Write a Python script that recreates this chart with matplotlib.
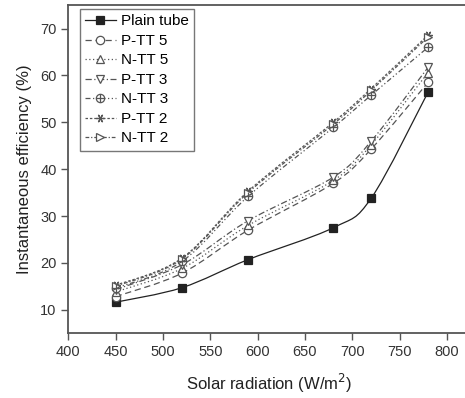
import matplotlib
matplotlib.use("Agg")
import matplotlib.pyplot as plt
from matplotlib.path import Path
from matplotlib.patches import PathPatch
from matplotlib.lines import Line2D

# data
radiation = [450, 520, 590, 680, 720, 780]
plain_tube = [11.6, 14.7, 20.7, 27.5, 33.8, 56.4]
ptt5 = [12.8, 17.8, 27.0, 37.0, 44.3, 58.5]
ntt5 = [13.8, 18.8, 28.0, 37.6, 45.2, 60.6]
ptt3 = [14.3, 19.6, 29.0, 38.3, 46.0, 61.7]
ntt3 = [14.6, 20.3, 34.2, 48.9, 55.8, 66.0]
ptt2 = [15.2, 21.0, 35.3, 50.0, 57.2, 68.6]
ntt2 = [15.0, 20.8, 35.0, 49.6, 56.8, 68.2]

labels = ["Plain tube", "P-TT 5", "N-TT 5", "P-TT 3", "N-TT 3", "P-TT 2", "N-TT 2"]
series = [plain_tube, ptt5, ntt5, ptt3, ntt3, ptt2, ntt2]


def smooth_path(x, y):
    """Catmull-Rom through the points, as cubic bezier segments."""
    n = len(x)
    verts = [(x[0], y[0])]
    codes = [Path.MOVETO]
    for i in range(n - 1):
        i0 = max(i - 1, 0)
        i3 = min(i + 2, n - 1)
        c1 = (x[i] + (x[i + 1] - x[i0]) / 6.0, y[i] + (y[i + 1] - y[i0]) / 6.0)
        c2 = (x[i + 1] - (x[i3] - x[i]) / 6.0, y[i + 1] - (y[i3] - y[i]) / 6.0)
        verts += [c1, c2, (x[i + 1], y[i + 1])]
        codes += [Path.CURVE4] * 3
    return Path(verts, codes)


plt.rcParams["font.family"] = ["Liberation Sans", "DejaVu Sans"]

fig = plt.figure(figsize=(4.65, 3.98), dpi=100)
ax = fig.add_axes([0.147, 0.163, 0.865, 0.824])

dark = "#222222"
grey = "#555555"
ms = 6
styles = [
    dict(ls="-", marker="s", mfc=dark, mec=dark, color=dark),
    dict(ls=(0, (5, 3)), marker="o", mfc="white", mec=grey, color=grey),
    dict(ls=(0, (1, 2)), marker="^", mfc="white", mec=grey, color=grey),
    dict(ls=(0, (5, 2, 1, 2)), marker="v", mfc="white", mec=grey, color=grey),
    dict(ls=(0, (4, 2, 1, 2, 1, 2)), marker="o", mfc="white", mec=grey, color=grey),
    dict(ls=(0, (2, 1.5)), marker=(6, 2, 90), mfc="white", mec=grey, color=grey),
    dict(ls=(0, (3, 1.5, 1, 1.5)), marker=">", mfc="white", mec=grey, color=grey),
]

handles = []
for lab, vals, st in zip(labels, series, styles):
    patch = PathPatch(smooth_path(radiation, vals), fill=False, edgecolor=st["color"],
                      linestyle=st["ls"], linewidth=0.9, transform=ax.transData, zorder=2)
    ax.add_patch(patch)
    ax.plot(radiation, vals, linestyle="none", marker=st["marker"], ms=ms,
            mfc=st["mfc"], mec=st["mec"], mew=0.9, zorder=3)
    h = Line2D([], [], linestyle=st["ls"], color=st["color"], lw=0.9,
               marker=st["marker"], ms=ms, mfc=st["mfc"], mec=st["mec"], mew=0.9)
    if lab == "N-TT 3":
        ax.plot(radiation, vals, linestyle="none", marker="+", ms=ms, mec=grey, mew=0.9, zorder=4)
        hp = Line2D([], [], linestyle="none", marker="+", ms=ms, mec=grey, mew=0.9)
        h = (h, hp)
    handles.append(h)

ax.set_xlim(400, 825)
ax.set_ylim(5, 75)
ax.set_xticks([400, 450, 500, 550, 600, 650, 700, 750, 800])
ax.set_yticks([10, 20, 30, 40, 50, 60, 70])

for sp in ax.spines.values():
    sp.set_color("#555555")
    sp.set_linewidth(1.3)
ax.tick_params(direction="out", length=5, width=1, color="#555555",
               labelsize=10.5, labelcolor="#333333")

ax.set_xlabel("Solar radiation (W/m$^2$)", fontsize=12, color="#222222", labelpad=9)
ax.set_ylabel("Instantaneous efficiency (%)", fontsize=12, color="#222222", labelpad=6)

leg = ax.legend(handles, labels, loc="upper left", bbox_to_anchor=(0.028, 0.988),
                fontsize=11, frameon=True, fancybox=False, handlelength=2.0,
                handletextpad=0.35, borderpad=0.35, labelspacing=0.36, borderaxespad=0)
leg.get_frame().set_edgecolor("#555555")
leg.get_frame().set_linewidth(1.0)

fig.savefig("out.png", dpi=100)
